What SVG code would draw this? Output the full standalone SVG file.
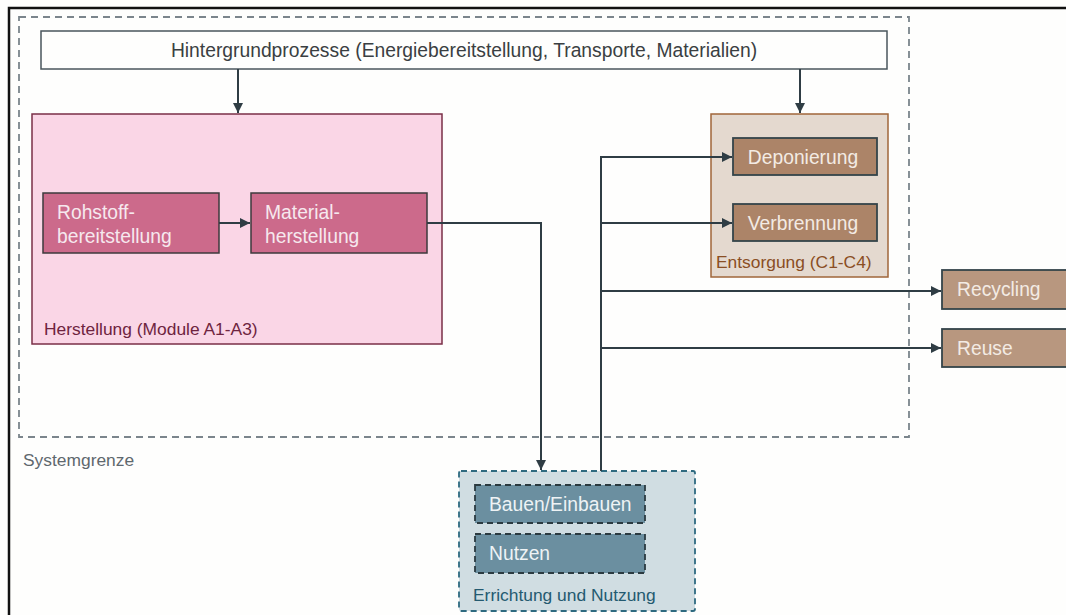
<svg xmlns="http://www.w3.org/2000/svg" width="1066" height="615" viewBox="0 0 1066 615">
<defs>
<style>
text{font-family:"Liberation Sans",Arial,sans-serif;font-size:19.3px}
.lbl{font-size:17.4px}
.conn{fill:none;stroke:#2f3d44;stroke-width:2}
</style>
<marker id="ah" viewBox="0 0 10 10" refX="10" refY="5" markerWidth="10" markerHeight="10" markerUnits="userSpaceOnUse" orient="auto">
<path d="M0,0 L10,5 L0,10 z" fill="#2f3d44"/>
</marker>
</defs>
<rect width="1066" height="615" fill="#fefefd"/>
<path d="M9,615 V8 H1066" fill="none" stroke="#111" stroke-width="2.5"/>
<g id="systemgrenze">
<rect x="19" y="17" width="890" height="420" fill="none" stroke="#7b858c" stroke-width="1.8" stroke-dasharray="7,5"/>
<text class="lbl" x="23" y="466" fill="#5f686e">Systemgrenze</text>
</g>
<g id="hintergrund">
<rect x="41" y="31" width="846" height="38" fill="#fefefd" stroke="#4a565c" stroke-width="1.5"/>
<text x="464" y="57" text-anchor="middle" fill="#3a3f42">Hintergrundprozesse (Energiebereitstellung, Transporte, Materialien)</text>
</g>
<g id="herstellung">
<rect x="32" y="114" width="410" height="230" fill="#fad6e6" stroke="#7a2f47" stroke-width="1.5"/>
<text class="lbl" x="44" y="335" fill="#6e2440">Herstellung (Module A1-A3)</text>
</g>
<g id="rohstoff">
<rect x="43" y="193" width="176" height="60" fill="#cc6a8b" stroke="#3d3a3c" stroke-width="1.5"/>
<text x="57" y="219" fill="#f6e8ee">Rohstoff-</text>
<text x="57" y="243" fill="#f6e8ee">bereitstellung</text>
</g>
<g id="material">
<rect x="251" y="193" width="176" height="60" fill="#cc6a8b" stroke="#3d3a3c" stroke-width="1.5"/>
<text x="265" y="219" fill="#f6e8ee">Material-</text>
<text x="265" y="243" fill="#f6e8ee">herstellung</text>
</g>
<g id="entsorgung">
<rect x="711" y="114" width="177" height="163" fill="#e4d9cf" stroke="#a0663a" stroke-width="1.5"/>
<text class="lbl" x="716" y="268" fill="#8a4e24">Entsorgung (C1-C4)</text>
</g>
<g id="deponierung">
<rect x="733" y="138" width="144" height="37" fill="#ac8468" stroke="#34444a" stroke-width="1.8"/>
<text x="803" y="164" text-anchor="middle" fill="#f3ebe4">Deponierung</text>
</g>
<g id="verbrennung">
<rect x="733" y="204" width="144" height="37" fill="#ac8468" stroke="#34444a" stroke-width="1.8"/>
<text x="803" y="230" text-anchor="middle" fill="#f3ebe4">Verbrennung</text>
</g>
<g id="recycling">
<rect x="942" y="270" width="130" height="39" fill="#b8977f" stroke="#34444a" stroke-width="1.8"/>
<text x="957" y="296" fill="#f3ebe4">Recycling</text>
</g>
<g id="reuse">
<rect x="942" y="329" width="130" height="38" fill="#b8977f" stroke="#34444a" stroke-width="1.8"/>
<text x="957" y="355" fill="#f3ebe4">Reuse</text>
</g>
<g id="errichtung">
<rect x="459" y="471" width="236" height="140" rx="2" fill="#d0dde2" stroke="#2e6a80" stroke-width="1.8" stroke-dasharray="6,4"/>
<text class="lbl" x="473" y="601" fill="#245a70">Errichtung und Nutzung</text>
</g>
<g id="bauen">
<rect x="475" y="485" width="170" height="38" fill="#6b8fa0" stroke="#2b3a40" stroke-width="1.8" stroke-dasharray="6,4"/>
<text x="489" y="511" fill="#eef3f5">Bauen/Einbauen</text>
</g>
<g id="nutzen">
<rect x="475" y="534" width="170" height="39" fill="#6b8fa0" stroke="#2b3a40" stroke-width="1.8" stroke-dasharray="6,4"/>
<text x="489" y="560" fill="#eef3f5">Nutzen</text>
</g>
<g id="connectors">
<path class="conn" d="M238,69 V113" marker-end="url(#ah)"/>
<path class="conn" d="M800,69 V113" marker-end="url(#ah)"/>
<path class="conn" d="M219,223 H250" marker-end="url(#ah)"/>
<path class="conn" d="M427,223 H541 V470" marker-end="url(#ah)"/>
<path class="conn" d="M601,471 V157 H732" marker-end="url(#ah)"/>
<path class="conn" d="M601,223 H732" marker-end="url(#ah)"/>
<path class="conn" d="M601,291 H941" marker-end="url(#ah)"/>
<path class="conn" d="M601,348 H941" marker-end="url(#ah)"/>
</g>
</svg>
